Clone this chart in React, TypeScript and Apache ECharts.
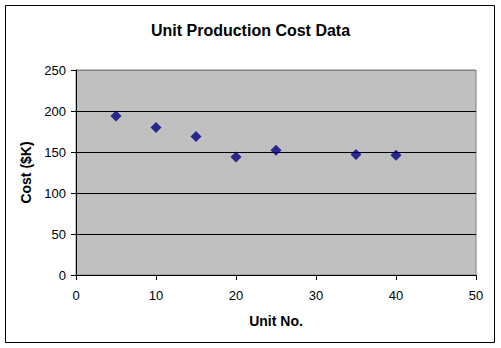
import React, { useEffect, useRef } from "react";
import * as echarts from "echarts";

const unitNo = [5, 10, 15, 20, 25, 35, 40];
const costK = [194, 180, 169, 144, 152, 147, 146];
const title = "Unit Production Cost Data";
const xTitle = "Unit No.";
const yTitle = "Cost ($K)";

export default function App() {
  const ref = useRef<HTMLDivElement>(null);
  useEffect(() => {
    if (!ref.current) return;
    const chart = echarts.init(ref.current, undefined, { renderer: "svg" });
    const font = "Arial, 'Liberation Sans', sans-serif";
    chart.setOption({
      animation: false,
      backgroundColor: "#ffffff",
      textStyle: { fontFamily: font },
      title: {
        text: title,
        left: "center",
        top: 17,
        textStyle: { fontFamily: font, fontSize: 16, fontWeight: "bold", color: "#000" },
      },
      graphic: [
        {
          type: "rect",
          shape: { x: 5.5, y: 5.5, width: 489, height: 337 },
          style: { fill: "none", stroke: "#000", lineWidth: 1 },
          silent: true,
        },
      ],
      grid: {
        left: 76,
        top: 70,
        right: 25,
        bottom: 73,
        show: true,
        backgroundColor: "#C0C0C0",
        borderColor: "#808080",
        borderWidth: 1,
      },
      xAxis: {
        type: "value",
        min: 0,
        max: 50,
        interval: 10,
        name: xTitle,
        nameLocation: "middle",
        nameGap: 39,
        nameTextStyle: { fontFamily: font, fontSize: 14, fontWeight: "bold", color: "#000" },
        axisLine: { show: true, lineStyle: { color: "#000", width: 1 } },
        axisTick: { show: true, length: 5, inside: false, lineStyle: { color: "#000" } },
        axisLabel: { fontFamily: font, fontSize: 13, color: "#000", margin: 14 },
        splitLine: { show: false },
      },
      yAxis: {
        type: "value",
        min: 0,
        max: 250,
        interval: 50,
        name: yTitle,
        nameLocation: "middle",
        nameGap: 42,
        nameRotate: 90,
        nameTextStyle: { fontFamily: font, fontSize: 14, fontWeight: "bold", color: "#000" },
        axisLine: { show: true, lineStyle: { color: "#000", width: 1 } },
        axisTick: { show: true, length: 5, inside: false, lineStyle: { color: "#000" } },
        axisLabel: { fontFamily: font, fontSize: 13, color: "#000", margin: 10 },
        splitLine: {
          show: true,
          lineStyle: {
            color: ["#000000", "#000000", "#000000", "#000000", "#000000", "#808080"],
            width: 1,
          },
        },
      },
      series: [
        {
          type: "scatter",
          data: unitNo.map((x, i) => [x, costK[i]]),
          symbol: "diamond",
          symbolSize: 11,
          itemStyle: { color: "#000080" },
        },
      ],
    });
    return () => chart.dispose();
  }, []);
  return (
    <div
      ref={ref}
      style={{ position: "fixed", left: 0, top: 0, width: 501, height: 348 }}
    />
  );
}
